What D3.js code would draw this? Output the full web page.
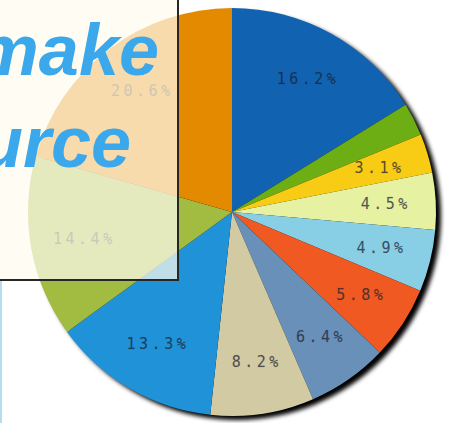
<!DOCTYPE html>
<html lang="en">
<head>
<meta charset="UTF-8">
<script src="https://d3js.org/d3.v7.min.js"></script>
<style>
    body { margin: 0; background: #fff; overflow: hidden; }
    svg { display: block; }
    .lbl { font-family: "DejaVu Sans Mono", monospace; font-size: 15px; letter-spacing: 3.5px; }
    .big { font-family: "Liberation Sans", Arial, sans-serif; font-weight: bold; font-style: italic; font-size: 72px; fill: #3aa8ea; }
</style>
<title>Pie</title>
</head>
<body>
<svg id="chart" width="450" height="423"></svg>
<script>
    // slices clockwise from 12 o'clock
    var shares = [16.2, 2.6, 3.1, 4.5, 4.9, 5.8, 6.4, 8.2, 13.3, 14.4, 20.6];
    var colors = ["#1262b2", "#6cae14", "#f8cc14", "#e6f2a2", "#88cfe6", "#f05a22",
                  "#6890b8", "#d2caa2", "#2092d8", "#a2bc42", "#e48a00"];
    var overlayWords = ["make", "urce"];

    var W = 450, H = 423;
    var cx = 232, cy = 212, R = 204;

    var svg = d3.select("#chart");

    var defs = svg.append("defs");
    defs.append("filter").attr("id", "blur")
        .attr("x", "-10%").attr("y", "-10%").attr("width", "120%").attr("height", "120%")
        .append("feGaussianBlur").attr("stdDeviation", 2);

    svg.append("rect").attr("width", W).attr("height", H).attr("fill", "#fff");
    svg.append("rect").attr("x", 0).attr("y", 280).attr("width", 2).attr("height", H - 280).attr("fill", "#b6dcf2");

    var g = svg.append("g").attr("transform", "translate(" + cx + "," + cy + ")");

    // drop shadow
    g.append("circle")
        .attr("cx", 5).attr("cy", 4).attr("r", R)
        .attr("fill", "#000")
        .attr("filter", "url(#blur)");

    var pie = d3.pie().sort(null).value(function (d) { return d; });
    var arc = d3.arc().innerRadius(0).outerRadius(R);
    var labelArc = d3.arc().innerRadius(152).outerRadius(152);
    var color = d3.scaleOrdinal().domain(d3.range(shares.length)).range(colors);

    var arcs = pie(shares);

    g.selectAll("path.slice")
        .data(arcs)
        .enter().append("path")
        .attr("class", "slice")
        .attr("d", arc)
        .attr("fill", function (d, i) { return color(i); });

    g.selectAll("text.lbl")
        .data(arcs.filter(function (d) { return d.value >= 3; }))
        .enter().append("text")
        .attr("class", "lbl")
        .attr("transform", function (d) {
            var c = labelArc.centroid(d);
            return "translate(" + (c[0] + 2) + "," + (c[1] + 5) + ")";
        })
        .attr("text-anchor", "middle")
        .attr("fill", "#1a2230")
        .attr("fill-opacity", 0.72)
        .attr("stroke", "#1a2230")
        .attr("stroke-opacity", 0.25)
        .attr("stroke-width", 0.4)
        .text(function (d) { return d3.format(".1f")(d.value) + "%"; });

    // semi-transparent panel over the left side
    svg.append("rect")
        .attr("x", -3).attr("y", -3)
        .attr("width", 181).attr("height", 283)
        .attr("fill", "#fdfbee")
        .attr("fill-opacity", 0.72)
        .attr("stroke", "#262626")
        .attr("stroke-width", 2);

    svg.append("text").attr("class", "big")
        .attr("x", 159).attr("y", 75)
        .attr("text-anchor", "end")
        .text(overlayWords[0]);

    svg.append("text").attr("class", "big")
        .attr("x", 131).attr("y", 167)
        .attr("text-anchor", "end")
        .text(overlayWords[1]);
</script>
</body>
</html>
